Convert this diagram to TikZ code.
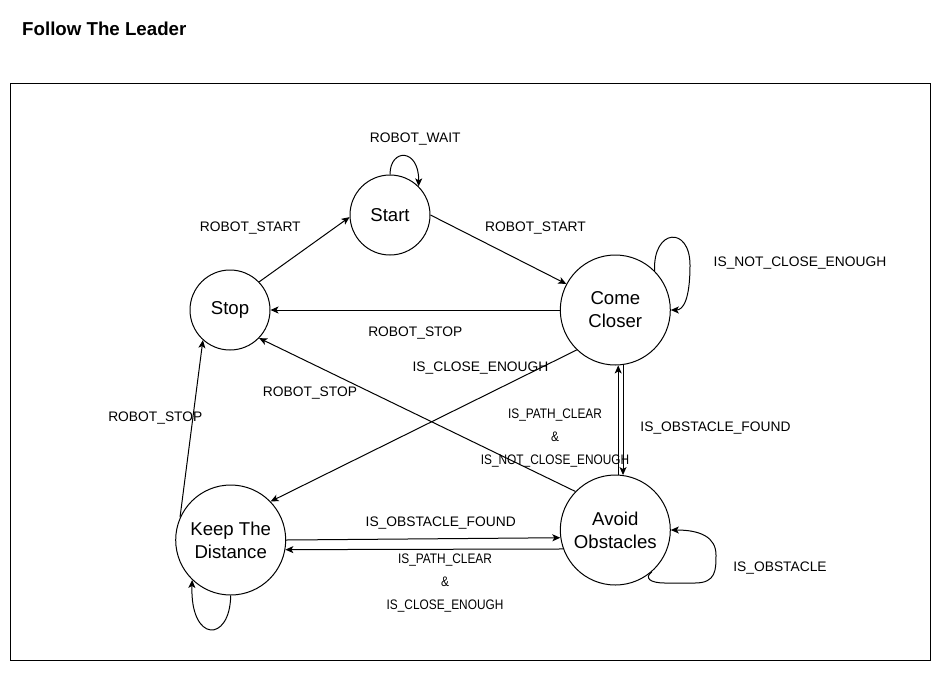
\documentclass[tikz,border=0pt]{standalone}
\usepackage{fontspec}
\setmainfont{Liberation Sans}
\newfontfamily\narrowfont[FakeStretch=0.86]{Liberation Sans}
\usetikzlibrary{arrows.meta}
\begin{document}
\begin{tikzpicture}[x=1pt,y=-1pt,
  state/.style={circle,draw,line width=1pt,inner sep=0pt,align=center,
                font=\fontsize{18.6}{23}\selectfont},
  smallstate/.style={state,minimum size=80pt},
  bigstate/.style={state,minimum size=110pt},
  lbl/.style={inner sep=0pt,yshift=-2pt,font=\fontsize{13.8}{16}\selectfont},
  nlbl/.style={inner sep=0pt,yshift=-2pt,font=\narrowfont\fontsize{13.8}{16}\selectfont},
  amp/.style={inner sep=0pt,font=\narrowfont\fontsize{13.8}{16}\selectfont},
  arr/.style={-{Stealth[length=8pt,width=7pt,inset=2pt]},line width=1pt},
]
\useasboundingbox (0,0) rectangle (941,672);
\node[anchor=west,inner sep=0pt,font=\bfseries\fontsize{18.7}{22}\selectfont] (title) at (22,29.3) {Follow The Leader};
\draw[line width=1pt] (10,83) rectangle (930,660);

\node[smallstate] (start) at (390,215) {Start};
\node[smallstate] (stop) at (230,310) {Stop};
\node[bigstate] (come) at (615.3,310) {Come\\Closer};
\node[bigstate] (avoid) at (615.3,530) {Avoid\\Obstacles};
\node[bigstate] (keep) at (230.7,540) {Keep The\\Distance};

\draw[arr] (stop.44) -- (start.183);
\draw[arr] (start.0) -- (come.152);
\draw[arr] (start.90) .. controls (390,148) and (419,148) .. (start.45);
\draw[arr] (come.180) -- (stop.0);
\draw[arr] (come.45) .. controls (653,228) and (690,226) .. (690,265)
                     .. controls (690,300) and (683,310) .. (come.0);
\draw[arr] (come.226) -- (keep.44);
\draw[arr] (avoid.136) -- (stop.-44);
\draw[arr] (keep.156) -- (stop.228);
\draw[arr] (avoid.87) -- (come.273);
\draw[arr] (come.278) -- (avoid.82);
\draw[arr] (keep.0) -- (avoid.188);
\draw[arr] (avoid.200) -- (keep.350);
\draw[arr] (keep.270) .. controls (230,643) and (190,643) .. (keep.226);
\draw[arr] (avoid.311) .. controls (644,578) and (650,583) .. (665,583) -- (695,583)
           .. controls (716,583) and (716,570) .. (716,555)
           .. controls (716,537) and (700,530) .. (avoid.0);

\node[lbl] (lwait) at (415.3,137) {ROBOT\_WAIT};
\node[lbl] (lstart1) at (250.3,226) {ROBOT\_START};
\node[lbl] (lstart2) at (535.5,226) {ROBOT\_START};
\node[lbl] (lnotclose) at (800,261.5) {IS\_NOT\_CLOSE\_ENOUGH};
\node[lbl] (lstop1) at (415.3,331) {ROBOT\_STOP};
\node[lbl] (lclose) at (480.5,366) {IS\_CLOSE\_ENOUGH};
\node[lbl] (lstop2) at (310,391.5) {ROBOT\_STOP};
\node[lbl] (lstop3) at (155.3,416) {ROBOT\_STOP};
\node[lbl] (lobsf1) at (715.5,426) {IS\_OBSTACLE\_FOUND};
\node[nlbl] (lpc1) at (555,413.5) {IS\_PATH\_CLEAR};
\node[amp] (lamp1) at (555,436.5) {\&};
\node[nlbl] (lnc1) at (555,459) {IS\_NOT\_CLOSE\_ENOUGH};
\node[lbl] (lobsf2) at (440.7,521) {IS\_OBSTACLE\_FOUND};
\node[nlbl] (lpc2) at (445,558.5) {IS\_PATH\_CLEAR};
\node[amp] (lamp2) at (445,581.5) {\&};
\node[nlbl] (lce2) at (445,604.5) {IS\_CLOSE\_ENOUGH};
\node[lbl] (lobs) at (780,566) {IS\_OBSTACLE};
\end{tikzpicture}
\end{document}
